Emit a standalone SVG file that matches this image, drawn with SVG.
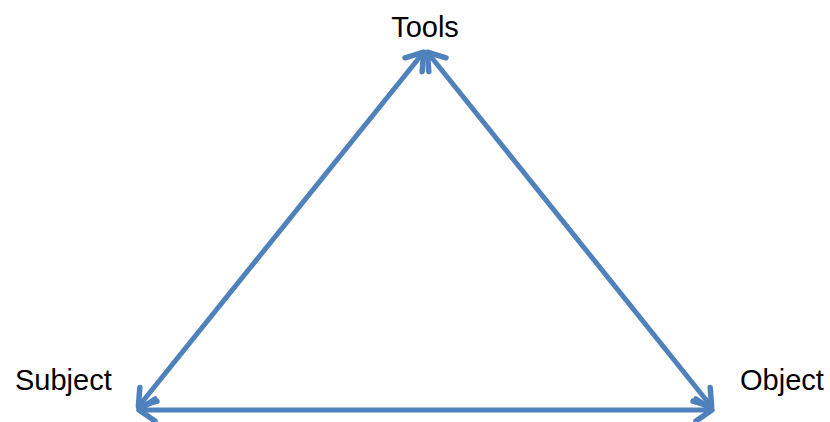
<svg xmlns="http://www.w3.org/2000/svg" width="830" height="422" viewBox="0 0 830 422">
<style>
.lbl{font-family:"Liberation Sans",Arial,sans-serif;font-size:29px;fill:#000}
.edge{stroke:#4F81BD;stroke-width:5;fill:none}
</style>
<defs>
<marker id="arr" markerUnits="userSpaceOnUse" viewBox="-22 -16 30 32" refX="0" refY="0" markerWidth="30" markerHeight="32" orient="auto-start-reverse" overflow="visible">
<path d="M -15 -11 L 1 0 L -15 11" fill="none" stroke="#4F81BD" stroke-width="5.5" stroke-linecap="round" stroke-linejoin="round"/>
</marker>
</defs>
<rect width="830" height="422" fill="#fff"/>
<g id="connectors">
<line class="edge" x1="423" y1="53" x2="139" y2="406" marker-start="url(#arr)" marker-end="url(#arr)"/>
<line class="edge" x1="428" y1="53" x2="711" y2="406" marker-start="url(#arr)" marker-end="url(#arr)"/>
<line class="edge" x1="140" y1="410" x2="711" y2="410" marker-start="url(#arr)" marker-end="url(#arr)"/>
</g>
<g id="tools"><text class="lbl" x="425" y="37" text-anchor="middle">Tools</text></g>
<g id="subject"><text class="lbl" x="15" y="390">Subject</text></g>
<g id="object"><text class="lbl" x="740" y="390">Object</text></g>
</svg>
